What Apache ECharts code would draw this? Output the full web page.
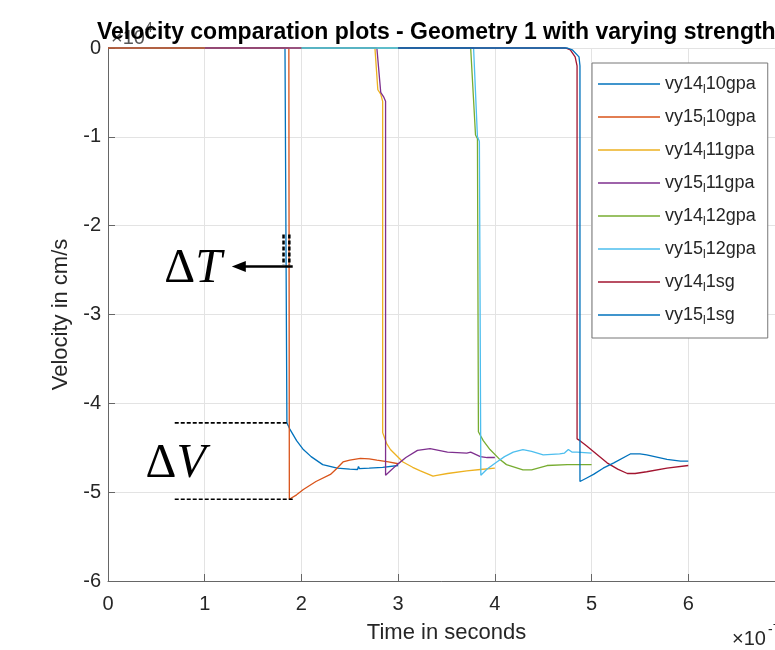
<!DOCTYPE html>
<html>
<head>
<meta charset="utf-8">
<script src="https://cdn.jsdelivr.net/npm/echarts@6/dist/echarts.min.js"></script>
<style>
html, body { margin: 0; padding: 0; background: #fff; }
#chart { width: 775px; height: 650px; }
</style>
</head>
<body>
<div id="chart"></div>
<script>
// values: [time (x1e-7 s), velocity (x1e4 cm/s)]
let names = ['vy14_10gpa', 'vy15_10gpa', 'vy14_11gpa', 'vy15_11gpa', 'vy14_12gpa', 'vy15_12gpa', 'vy14_1sg', 'vy15_1sg'];
let colors = ['#0072BD', '#D95319', '#EDB120', '#7E2F8E', '#77AC30', '#4DBEEE', '#A2142F', '#0072BD'];

let vy14_10gpa = [[0, 0], [1.83, 0], [1.85, -4.22], [1.88, -4.29], [1.95, -4.42], [2.02, -4.52], [2.1, -4.6],
	[2.22, -4.69], [2.37, -4.73], [2.5, -4.74], [2.58, -4.745], [2.59, -4.71], [2.6, -4.735], [2.7, -4.73],
	[2.84, -4.72], [3.0, -4.70]];
let vy15_10gpa = [[0, 0], [1.87, 0], [1.875, -5.08], [1.95, -5.03], [2.02, -4.97], [2.15, -4.88], [2.3, -4.8],
	[2.36, -4.74], [2.43, -4.66], [2.5, -4.64], [2.61, -4.62], [2.7, -4.625], [2.78, -4.64], [2.9, -4.66],
	[3.0, -4.68]];
let vy14_11gpa = [[1, 0], [2.76, 0], [2.79, -0.47], [2.82, -0.52], [2.84, -0.6], [2.84, -4.33], [2.88, -4.45],
	[2.92, -4.52], [3.05, -4.66], [3.15, -4.72], [3.23, -4.76], [3.36, -4.82], [3.4, -4.81], [3.51, -4.79],
	[3.71, -4.76], [3.85, -4.745], [4.0, -4.73]];
let vy15_11gpa = [[1, 0], [2.78, 0], [2.82, -0.5], [2.85, -0.55], [2.87, -0.6], [2.87, -4.81], [2.92, -4.76],
	[2.99, -4.69], [3.08, -4.61], [3.2, -4.53], [3.33, -4.51], [3.42, -4.53], [3.51, -4.55], [3.71, -4.56],
	[3.75, -4.55], [3.85, -4.6], [3.92, -4.61], [4.0, -4.61]];
let vy14_12gpa = [[2, 0], [3.75, 0], [3.8, -0.98], [3.82, -1.02], [3.83, -4.32], [3.88, -4.42], [3.95, -4.52],
	[4.04, -4.62], [4.12, -4.69], [4.29, -4.75], [4.38, -4.75], [4.4, -4.73], [4.54, -4.7], [4.75, -4.69],
	[5.0, -4.69]];
let vy15_12gpa = [[2, 0], [3.78, 0], [3.82, -1.0], [3.84, -1.05], [3.855, -4.81], [3.92, -4.74], [4.02, -4.66],
	[4.1, -4.6], [4.19, -4.55], [4.29, -4.52], [4.38, -4.54], [4.5, -4.58], [4.67, -4.57], [4.72, -4.56],
	[4.76, -4.52], [4.8, -4.55], [4.85, -4.55], [5.0, -4.56]];
let vy14_1sg = [[3, 0], [4.73, 0], [4.78, -0.02], [4.83, -0.1], [4.85, -0.2], [4.85, -4.4], [4.88, -4.42],
	[4.95, -4.48], [5.05, -4.57], [5.16, -4.67], [5.27, -4.74], [5.37, -4.79], [5.45, -4.79], [5.47, -4.78],
	[5.57, -4.77], [5.78, -4.73], [6.0, -4.70]];
let vy15_1sg = [[3, 0], [4.75, 0], [4.8, -0.02], [4.87, -0.1], [4.88, -0.2], [4.88, -4.88], [4.95, -4.84],
	[5.02, -4.8], [5.12, -4.73], [5.23, -4.67], [5.4, -4.57], [5.5, -4.57], [5.57, -4.58], [5.78, -4.63],
	[5.92, -4.65], [6.0, -4.65]];

let allData = [vy14_10gpa, vy15_10gpa, vy14_11gpa, vy15_11gpa, vy14_12gpa, vy15_12gpa, vy14_1sg, vy15_1sg];

let font = 'Liberation Sans';
let myChart = echarts.init(document.getElementById('chart'));

let option = {
	animation: false,
	title: {
		text: 'Velocity comparation plots - Geometry 1 with varying strengths',
		left: 97,
		top: 21,
		padding: 0,
		textStyle: {
			fontFamily: font,
			fontSize: 23,
			fontWeight: 'bold',
			color: '#000'
		}
	},
	grid: {
		left: 108,
		top: 48,
		right: -10,
		bottom: 69,
		outerBoundsMode: 'none',
		containLabel: false
	},
	legend: {
		orient: 'vertical',
		left: 592,
		top: 63,
		selectedMode: false,
		data: names,
		icon: 'rect',
		backgroundColor: '#fff',
		borderColor: '#777',
		borderWidth: 1,
		padding: [9, 12, 11, 6],
		itemGap: 9,
		itemWidth: 62,
		itemHeight: 1.4,
		formatter: function(name) {
			return name.replace('_', '{s|l}');
		},
		textStyle: {
			fontFamily: font,
			fontSize: 18,
			lineHeight: 24,
			color: '#262626',
			rich: {
				s: {
					fontFamily: font,
					fontSize: 12,
					lineHeight: 12,
					verticalAlign: 'bottom',
					color: '#262626'
				}
			}
		}
	},
	xAxis: {
		type: 'value',
		min: 0,
		max: 7,
		interval: 1,
		name: 'Time in seconds',
		nameLocation: 'middle',
		nameGap: 41,
		nameTextStyle: { fontFamily: font, fontSize: 22, color: '#262626' },
		axisLine: { onZero: false, lineStyle: { color: '#666', width: 1 } },
		axisTick: { inside: true, length: 7, lineStyle: { color: '#666' } },
		axisLabel: {
			fontFamily: font,
			fontSize: 20,
			color: '#262626',
			margin: 13,
			formatter: v => (v === 7 ? '' : String(v))
		},
		splitLine: { show: true, lineStyle: { color: '#e3e3e3', width: 1 } }
	},
	yAxis: {
		type: 'value',
		min: -6,
		max: 0,
		interval: 1,
		name: 'Velocity in cm/s',
		nameLocation: 'middle',
		nameGap: 35,
		nameTextStyle: { fontFamily: font, fontSize: 22, color: '#262626' },
		axisLine: { show: true, onZero: false, lineStyle: { color: '#666', width: 1 } },
		axisTick: { show: true, inside: true, length: 7, lineStyle: { color: '#666' } },
		axisLabel: { fontFamily: font, fontSize: 20, color: '#262626', margin: 7 },
		splitLine: { show: true, lineStyle: { color: '#e3e3e3', width: 1 } }
	},
	series: names.map((n, i) => ({
		name: n,
		type: 'line',
		data: allData[i],
		symbol: 'none',
		clip: false,
		color: colors[i],
		lineStyle: { width: 1.3, color: colors[i] }
	}))
};
myChart.setOption(option);

// annotations placed in data coordinates
function px(p) {
	return myChart.convertToPixel({ gridIndex: 0 }, p);
}
function seg(a, b, style) {
	let p = px(a), q = px(b);
	return { type: 'line', z: 100, shape: { x1: p[0], y1: p[1], x2: q[0], y2: q[1] }, style: style };
}
let dash = { stroke: '#000', lineWidth: 1.6, lineDash: [4, 2] };
let tickDash = { stroke: '#000', lineWidth: 2.5, lineDash: [4, 2] };
let arrowFrom = px([1.91, -2.46]);
let arrowTip = px([1.28, -2.46]);
let dT = px([0.88, -2.49]);
let dV = px([0.70, -4.69]);
let greek = {
	a: { fontFamily: 'Liberation Serif', fontSize: 48, fill: '#000' },
	b: { fontFamily: 'Liberation Serif', fontSize: 48, fontStyle: 'italic', fill: '#000' }
};

myChart.setOption({
	graphic: [
		seg([0.69, -4.22], [1.85, -4.22], dash),
		seg([0.69, -5.08], [1.91, -5.08], dash),
		seg([1.815, -2.1], [1.815, -2.44], tickDash),
		seg([1.875, -2.1], [1.875, -2.44], tickDash),
		{
			type: 'line', z: 100,
			shape: { x1: arrowFrom[0], y1: arrowFrom[1], x2: arrowTip[0] + 10, y2: arrowTip[1] },
			style: { stroke: '#000', lineWidth: 2.5 }
		},
		{
			type: 'polygon', z: 100,
			shape: { points: [[arrowTip[0], arrowTip[1]], [arrowTip[0] + 14, arrowTip[1] - 5.5], [arrowTip[0] + 14, arrowTip[1] + 5.5]] },
			style: { fill: '#000' }
		},
		{
			type: 'text', z: 100, x: dT[0], y: dT[1],
			style: { text: '{a|Δ}{b|T}', rich: greek, align: 'center', verticalAlign: 'middle' }
		},
		{
			type: 'text', z: 100, x: dV[0], y: dV[1],
			style: { text: '{a|Δ}{b|V}', rich: greek, align: 'center', verticalAlign: 'middle' }
		},
		{
			type: 'text', z: 5, x: 111, y: 38,
			style: { text: '×10', fontFamily: font, fontSize: 20, fill: '#555', verticalAlign: 'middle' }
		},
		{
			type: 'text', z: 5, x: 145, y: 28,
			style: { text: '4', fontFamily: font, fontSize: 14, fill: '#555', verticalAlign: 'middle' }
		},
		{
			type: 'text', z: 5, x: 732, y: 639,
			style: { text: '×10', fontFamily: font, fontSize: 20, fill: '#262626', verticalAlign: 'middle' }
		},
		{
			type: 'text', z: 5, x: 768, y: 630,
			style: { text: '-7', fontFamily: font, fontSize: 14, fill: '#262626', verticalAlign: 'middle' }
		}
	]
});
</script>
</body>
</html>
